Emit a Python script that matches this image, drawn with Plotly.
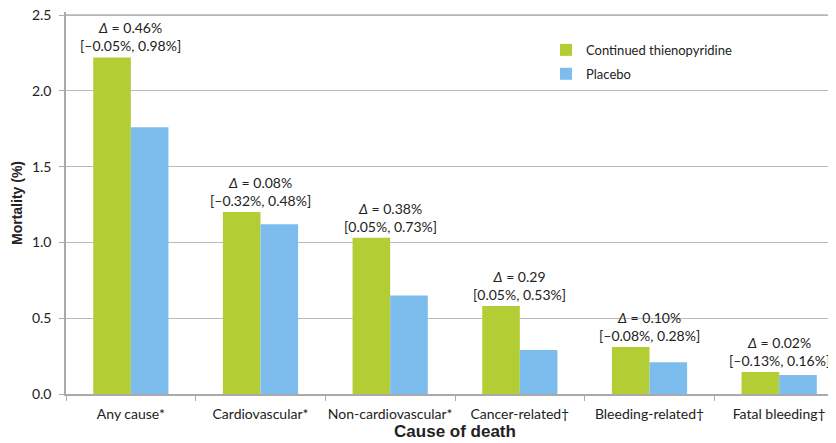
import plotly.graph_objects as go

categories = ["Any cause*", "Cardiovascular*", "Non-cardiovascular*", "Cancer-related†", "Bleeding-related†", "Fatal bleeding†"]
thieno = [2.22, 1.20, 1.03, 0.58, 0.31, 0.145]
placebo = [1.76, 1.12, 0.65, 0.29, 0.21, 0.125]
deltas = ["0.46%", "0.08%", "0.38%", "0.29", "0.10%", "0.02%"]
cis = ["[–0.05%, 0.98%]", "[–0.32%, 0.48%]", "[0.05%, 0.73%]", "[0.05%, 0.53%]", "[–0.08%, 0.28%]", "[–0.13%, 0.16%]"]
y_ticks = [0, 0.5, 1.0, 1.5, 2.0, 2.5]

FONT = "Lato, Open Sans, sans-serif"
GREEN = "#B3CD34"
BLUE = "#7CBDEE"

fig = go.Figure()
fig.add_bar(x=categories, y=thieno, name="Continued thienopyridine", marker_color=GREEN,
            marker_line_width=0, legendgroup="a")
fig.add_bar(x=categories, y=placebo, name="Placebo", marker_color=BLUE,
            marker_line_width=0, legendgroup="b")

for c, v, d, ci in zip(categories, thieno, deltas, cis):
    fig.add_annotation(x=c, y=v, text=f"<i>Δ</i> = {d}<br>{ci}", showarrow=False,
                       yanchor="bottom", yshift=1, font=dict(family=FONT, size=14, color="#222"))

# top gridline drawn explicitly
fig.add_shape(type="line", xref="paper", yref="y", x0=0, x1=1, y0=y_ticks[-1], y1=y_ticks[-1],
              line=dict(color="#b5b5b5", width=1.5), layer="above")

fig.update_layout(
    width=836, height=443,
    margin=dict(l=58, r=0, t=4, b=57, autoexpand=False),
    paper_bgcolor="white", plot_bgcolor="white",
    barmode="group", bargap=0.42, bargroupgap=0,
    font=dict(family=FONT, size=13, color="#222"),
    showlegend=True,
    legend=dict(x=0.617, y=0.94, xanchor="left", yanchor="top", font=dict(family=FONT, size=13),
                itemwidth=30, traceorder="grouped", tracegroupgap=4, bgcolor="rgba(0,0,0,0)"),
)
fig.update_xaxes(
    range=[-0.5, 5.5], showline=True, linecolor="#aaaaaa", linewidth=1.5, automargin=False,
    ticks="outside", tickson="boundaries", ticklen=5, tickcolor="#aaaaaa", tickangle=0,
    ticklabelstandoff=6,
    tickfont=dict(family=FONT, size=14, color="#222"),
    title=dict(text="<b>Cause of death</b>", font=dict(family="Liberation Sans, Arial", size=17, color="#222"), standoff=0),
)
fig.update_yaxes(
    range=[0, 2.52], tickvals=y_ticks, tickformat=".1f",
    showgrid=True, gridcolor="#bbbbbb", gridwidth=1,
    showline=True, linecolor="#aaaaaa", linewidth=1.5, ticks="outside", ticklen=5, tickcolor="#aaaaaa",
    ticklabelstandoff=5, ticklabeloverflow="allow",
    tickfont=dict(family=FONT, size=14, color="#222"), zeroline=False, automargin=False,
    title=dict(text="<b>Mortality (%)</b>", font=dict(family="Liberation Sans, Arial", size=14, color="#222"), standoff=6),
)
fig.write_html("out.html")
